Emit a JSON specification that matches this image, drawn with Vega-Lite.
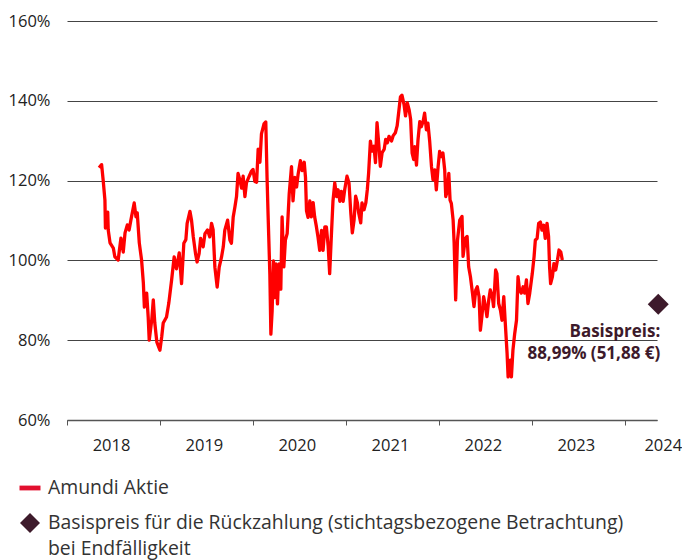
{
  "$schema": "https://vega.github.io/schema/vega-lite/v6.json",
  "width": 590,
  "height": 399,
  "autosize": "none",
  "padding": {"left": 67, "top": 21, "right": 25, "bottom": 140},
  "background": "white",
  "config": {"view": {"stroke": null}, "font": "Open Sans", "style": {"guide-label": {"lineHeight": 26}}},
  "datasets": {
    "stock": [
      {"date": "2017-11-04", "value": 123.2}, {"date": "2017-11-14", "value": 124.0}, {"date": "2017-11-20", "value": 120.2},
      {"date": "2017-11-27", "value": 115.1}, {"date": "2017-11-29", "value": 108.1}, {"date": "2017-12-08", "value": 112.1},
      {"date": "2017-12-10", "value": 107.6}, {"date": "2017-12-17", "value": 104.4}, {"date": "2017-12-30", "value": 103.1},
      {"date": "2018-01-05", "value": 100.9}, {"date": "2018-01-18", "value": 100.1}, {"date": "2018-01-29", "value": 105.6},
      {"date": "2018-02-07", "value": 102.1}, {"date": "2018-02-14", "value": 106.9}, {"date": "2018-02-23", "value": 108.9},
      {"date": "2018-03-02", "value": 107.6}, {"date": "2018-03-09", "value": 110.1}, {"date": "2018-03-22", "value": 114.4},
      {"date": "2018-03-29", "value": 110.9}, {"date": "2018-04-03", "value": 111.9}, {"date": "2018-04-11", "value": 104.4},
      {"date": "2018-04-20", "value": 100.1}, {"date": "2018-04-27", "value": 94.3}, {"date": "2018-05-01", "value": 88.3},
      {"date": "2018-05-10", "value": 91.8}, {"date": "2018-05-16", "value": 85.8}, {"date": "2018-05-20", "value": 80.0},
      {"date": "2018-05-30", "value": 85.1}, {"date": "2018-06-05", "value": 90.1}, {"date": "2018-06-11", "value": 84.3},
      {"date": "2018-06-19", "value": 79.5}, {"date": "2018-07-01", "value": 77.5}, {"date": "2018-07-08", "value": 80.8},
      {"date": "2018-07-14", "value": 84.3}, {"date": "2018-07-27", "value": 85.8}, {"date": "2018-08-05", "value": 89.3},
      {"date": "2018-08-16", "value": 95.1}, {"date": "2018-08-26", "value": 100.9}, {"date": "2018-09-04", "value": 97.9},
      {"date": "2018-09-15", "value": 101.9}, {"date": "2018-09-24", "value": 94.2}, {"date": "2018-10-03", "value": 104.3},
      {"date": "2018-10-11", "value": 105.2}, {"date": "2018-10-16", "value": 109.3}, {"date": "2018-10-27", "value": 112.3},
      {"date": "2018-11-02", "value": 110.2}, {"date": "2018-11-09", "value": 106.0}, {"date": "2018-11-18", "value": 101.7},
      {"date": "2018-11-24", "value": 99.6}, {"date": "2018-12-02", "value": 101.7}, {"date": "2018-12-08", "value": 105.5},
      {"date": "2018-12-18", "value": 103.4}, {"date": "2018-12-25", "value": 106.7}, {"date": "2019-01-04", "value": 107.6},
      {"date": "2019-01-13", "value": 105.9}, {"date": "2019-01-20", "value": 109.3}, {"date": "2019-01-26", "value": 107.7},
      {"date": "2019-02-02", "value": 98.3}, {"date": "2019-02-11", "value": 93.3}, {"date": "2019-02-19", "value": 98.3},
      {"date": "2019-02-28", "value": 100.8}, {"date": "2019-03-07", "value": 103.4}, {"date": "2019-03-13", "value": 107.6},
      {"date": "2019-03-24", "value": 110.1}, {"date": "2019-04-02", "value": 105.1}, {"date": "2019-04-08", "value": 104.3},
      {"date": "2019-04-15", "value": 110.9}, {"date": "2019-04-22", "value": 113.5}, {"date": "2019-04-28", "value": 116.0},
      {"date": "2019-05-04", "value": 121.8}, {"date": "2019-05-11", "value": 120.2}, {"date": "2019-05-18", "value": 118.1},
      {"date": "2019-05-24", "value": 121.1}, {"date": "2019-05-31", "value": 116.0}, {"date": "2019-06-06", "value": 119.4},
      {"date": "2019-06-17", "value": 121.1}, {"date": "2019-06-26", "value": 122.4}, {"date": "2019-07-02", "value": 122.8},
      {"date": "2019-07-09", "value": 119.8}, {"date": "2019-07-16", "value": 119.6}, {"date": "2019-07-22", "value": 127.9},
      {"date": "2019-07-29", "value": 124.6}, {"date": "2019-08-04", "value": 131.7}, {"date": "2019-08-14", "value": 134.2},
      {"date": "2019-08-21", "value": 134.7}, {"date": "2019-08-26", "value": 120.7}, {"date": "2019-08-30", "value": 111.5},
      {"date": "2019-09-06", "value": 96.5}, {"date": "2019-09-10", "value": 81.5}, {"date": "2019-09-15", "value": 87.4},
      {"date": "2019-09-20", "value": 99.9}, {"date": "2019-09-25", "value": 90.7}, {"date": "2019-09-30", "value": 99.1},
      {"date": "2019-10-06", "value": 89.1}, {"date": "2019-10-12", "value": 99.1}, {"date": "2019-10-19", "value": 92.8},
      {"date": "2019-10-24", "value": 110.9}, {"date": "2019-10-31", "value": 98.4}, {"date": "2019-11-06", "value": 105.1},
      {"date": "2019-11-13", "value": 106.7}, {"date": "2019-11-21", "value": 116.7}, {"date": "2019-11-30", "value": 123.5},
      {"date": "2019-12-06", "value": 114.9}, {"date": "2019-12-13", "value": 120.8}, {"date": "2019-12-20", "value": 118.4},
      {"date": "2019-12-26", "value": 121.6}, {"date": "2020-01-04", "value": 125.0}, {"date": "2020-01-11", "value": 122.5},
      {"date": "2020-01-19", "value": 124.6}, {"date": "2020-01-24", "value": 120.8}, {"date": "2020-01-28", "value": 112.4},
      {"date": "2020-02-03", "value": 110.8}, {"date": "2020-02-10", "value": 114.9}, {"date": "2020-02-16", "value": 110.9},
      {"date": "2020-02-23", "value": 114.5}, {"date": "2020-02-29", "value": 110.9}, {"date": "2020-03-07", "value": 108.4},
      {"date": "2020-03-13", "value": 105.9}, {"date": "2020-03-20", "value": 102.5}, {"date": "2020-03-27", "value": 107.5},
      {"date": "2020-04-02", "value": 102.5}, {"date": "2020-04-09", "value": 108.4}, {"date": "2020-04-15", "value": 108.4},
      {"date": "2020-04-22", "value": 103.6}, {"date": "2020-04-28", "value": 96.7}, {"date": "2020-05-05", "value": 106.7},
      {"date": "2020-05-11", "value": 114.9}, {"date": "2020-05-18", "value": 119.4}, {"date": "2020-05-25", "value": 116.0},
      {"date": "2020-05-31", "value": 117.7}, {"date": "2020-06-07", "value": 114.8}, {"date": "2020-06-13", "value": 117.3},
      {"date": "2020-06-20", "value": 114.8}, {"date": "2020-06-26", "value": 117.7}, {"date": "2020-07-05", "value": 121.1},
      {"date": "2020-07-13", "value": 119.4}, {"date": "2020-07-20", "value": 111.9}, {"date": "2020-07-26", "value": 106.9},
      {"date": "2020-08-02", "value": 110.2}, {"date": "2020-08-08", "value": 116.1}, {"date": "2020-08-15", "value": 114.4},
      {"date": "2020-08-20", "value": 111.9}, {"date": "2020-08-28", "value": 109.4}, {"date": "2020-09-02", "value": 114.4},
      {"date": "2020-09-10", "value": 112.7}, {"date": "2020-09-17", "value": 114.4}, {"date": "2020-09-23", "value": 117.8},
      {"date": "2020-09-28", "value": 121.9}, {"date": "2020-10-05", "value": 129.9}, {"date": "2020-10-11", "value": 127.4},
      {"date": "2020-10-19", "value": 128.6}, {"date": "2020-10-25", "value": 124.5}, {"date": "2020-10-31", "value": 134.5},
      {"date": "2020-11-07", "value": 129.1}, {"date": "2020-11-13", "value": 123.6}, {"date": "2020-11-20", "value": 127.0},
      {"date": "2020-11-28", "value": 127.8}, {"date": "2020-12-04", "value": 130.3}, {"date": "2020-12-11", "value": 129.5},
      {"date": "2020-12-17", "value": 131.1}, {"date": "2020-12-27", "value": 129.9}, {"date": "2021-01-02", "value": 131.2},
      {"date": "2021-01-11", "value": 132.0}, {"date": "2021-01-18", "value": 133.7}, {"date": "2021-01-24", "value": 137.0},
      {"date": "2021-01-31", "value": 141.0}, {"date": "2021-02-06", "value": 141.4}, {"date": "2021-02-14", "value": 139.1},
      {"date": "2021-02-20", "value": 136.2}, {"date": "2021-02-27", "value": 139.5}, {"date": "2021-03-06", "value": 137.8},
      {"date": "2021-03-12", "value": 135.4}, {"date": "2021-03-18", "value": 126.9}, {"date": "2021-03-24", "value": 125.3},
      {"date": "2021-03-28", "value": 128.5}, {"date": "2021-04-04", "value": 123.9}, {"date": "2021-04-10", "value": 130.2},
      {"date": "2021-04-17", "value": 134.8}, {"date": "2021-04-23", "value": 133.5}, {"date": "2021-04-30", "value": 134.8},
      {"date": "2021-05-06", "value": 136.9}, {"date": "2021-05-13", "value": 132.7}, {"date": "2021-05-19", "value": 134.4},
      {"date": "2021-05-26", "value": 129.8}, {"date": "2021-06-02", "value": 123.5}, {"date": "2021-06-08", "value": 120.2},
      {"date": "2021-06-15", "value": 122.7}, {"date": "2021-06-21", "value": 117.7}, {"date": "2021-06-28", "value": 123.5},
      {"date": "2021-07-04", "value": 127.3}, {"date": "2021-07-11", "value": 126.0}, {"date": "2021-07-17", "value": 126.9},
      {"date": "2021-07-24", "value": 122.6}, {"date": "2021-07-28", "value": 116.0}, {"date": "2021-08-04", "value": 117.6},
      {"date": "2021-08-09", "value": 121.8}, {"date": "2021-08-14", "value": 115.1}, {"date": "2021-08-19", "value": 114.3},
      {"date": "2021-08-26", "value": 110.1}, {"date": "2021-08-30", "value": 104.3}, {"date": "2021-09-05", "value": 90.1},
      {"date": "2021-09-12", "value": 105.0}, {"date": "2021-09-21", "value": 110.1}, {"date": "2021-09-30", "value": 111.0},
      {"date": "2021-10-04", "value": 101.0}, {"date": "2021-10-13", "value": 105.5}, {"date": "2021-10-20", "value": 106.0},
      {"date": "2021-10-26", "value": 98.4}, {"date": "2021-11-02", "value": 95.9}, {"date": "2021-11-10", "value": 91.8},
      {"date": "2021-11-16", "value": 88.4}, {"date": "2021-11-23", "value": 92.6}, {"date": "2021-11-29", "value": 93.4},
      {"date": "2021-12-06", "value": 90.9}, {"date": "2021-12-11", "value": 82.5}, {"date": "2021-12-17", "value": 85.9},
      {"date": "2021-12-24", "value": 90.9}, {"date": "2021-12-31", "value": 88.4}, {"date": "2022-01-06", "value": 85.9},
      {"date": "2022-01-13", "value": 90.1}, {"date": "2022-01-19", "value": 92.6}, {"date": "2022-01-27", "value": 90.9},
      {"date": "2022-02-01", "value": 88.4}, {"date": "2022-02-09", "value": 97.6}, {"date": "2022-02-14", "value": 96.7},
      {"date": "2022-02-21", "value": 89.2}, {"date": "2022-02-28", "value": 87.5}, {"date": "2022-03-06", "value": 85.0},
      {"date": "2022-03-13", "value": 90.9}, {"date": "2022-03-19", "value": 84.2}, {"date": "2022-03-26", "value": 76.7},
      {"date": "2022-03-30", "value": 70.8}, {"date": "2022-04-08", "value": 75.0}, {"date": "2022-04-12", "value": 70.8},
      {"date": "2022-04-18", "value": 77.5}, {"date": "2022-04-25", "value": 81.7}, {"date": "2022-05-02", "value": 85.0},
      {"date": "2022-05-08", "value": 95.9}, {"date": "2022-05-14", "value": 92.6}, {"date": "2022-05-21", "value": 91.8},
      {"date": "2022-05-28", "value": 93.4}, {"date": "2022-06-03", "value": 91.8}, {"date": "2022-06-10", "value": 95.1},
      {"date": "2022-06-16", "value": 89.2}, {"date": "2022-06-23", "value": 91.8}, {"date": "2022-07-03", "value": 96.7},
      {"date": "2022-07-10", "value": 100.9}, {"date": "2022-07-15", "value": 105.1}, {"date": "2022-07-22", "value": 105.5},
      {"date": "2022-07-28", "value": 109.3}, {"date": "2022-08-04", "value": 109.6}, {"date": "2022-08-10", "value": 107.6},
      {"date": "2022-08-17", "value": 108.8}, {"date": "2022-08-23", "value": 105.5}, {"date": "2022-08-30", "value": 109.3},
      {"date": "2022-09-05", "value": 106.0}, {"date": "2022-09-09", "value": 98.3}, {"date": "2022-09-13", "value": 94.2},
      {"date": "2022-09-20", "value": 95.9}, {"date": "2022-09-26", "value": 99.2}, {"date": "2022-10-03", "value": 97.6},
      {"date": "2022-10-10", "value": 100.1}, {"date": "2022-10-16", "value": 102.6}, {"date": "2022-10-23", "value": 102.1},
      {"date": "2022-10-29", "value": 100.1}
    ],
    "strike": [
      {"date": "2023-11-10", "value": 88.99, "series": "Basispreis für die Rückzahlung (stichtagsbezogene Betrachtung)", "label": "Basispreis:\n88,99% (51,88 €)"}
    ]
  },
  "layer": [
    {
      "data": {"name": "stock"},
      "mark": {"type": "line", "color": "#ff0000", "strokeWidth": 3.3, "strokeJoin": "round"},
      "encoding": {
        "x": {
          "field": "date", "type": "temporal",
          "scale": {"type": "utc", "nice": false, "domain": [{"year": 2017, "month": 7, "date": 1, "utc": true}, {"year": 2023, "month": 11, "date": 5, "utc": true}]},
          "axis": {
            "title": null, "grid": false,
            "values": [
              {"year": 2017, "month": 7, "date": 1, "utc": true}, {"year": 2018, "month": 7, "date": 1, "utc": true},
              {"year": 2019, "month": 7, "date": 1, "utc": true}, {"year": 2020, "month": 7, "date": 1, "utc": true},
              {"year": 2021, "month": 7, "date": 1, "utc": true}, {"year": 2022, "month": 7, "date": 1, "utc": true},
              {"year": 2023, "month": 7, "date": 1, "utc": true}
            ],
            "labelExpr": "utcyear(datum.value) + 1",
            "labelOffset": {"condition": {"test": "utcyear(datum.value) == 2023", "value": 57}, "value": 44},
            "labelAlign": {"condition": {"test": "utcyear(datum.value) == 2023", "value": "right"}, "value": "center"},
            "labelPadding": 12, "labelOverlap": false, "labelFlush": false, "labelBound": false,
            "labelFontSize": 16.5, "labelColor": "#222222", "labelFont": "Open Sans",
            "tickSize": 5, "tickColor": "#555555", "domainColor": "#555555", "domainWidth": 1.5
          }
        },
        "y": {
          "field": "value", "type": "quantitative",
          "scale": {"domain": [60, 160], "nice": false, "zero": false},
          "axis": {
            "title": null, "values": [60, 80, 100, 120, 140, 160], "labelExpr": "datum.value + '%'",
            "domain": false, "ticks": false, "grid": true, "gridColor": "#444444", "gridWidth": 1, "gridOpacity": 1,
            "labelFontSize": 16.5, "labelColor": "#222222", "labelFont": "Open Sans", "labelPadding": 17
          }
        }
      }
    },
    {
      "data": {"name": "strike"},
      "mark": {"type": "point", "filled": true, "size": 441, "opacity": 1, "strokeWidth": 0},
      "encoding": {
        "x": {"field": "date", "type": "temporal"},
        "y": {"field": "value", "type": "quantitative"},
        "color": {
          "field": "series", "type": "nominal",
          "scale": {"domain": ["Amundi Aktie", "Basispreis für die Rückzahlung (stichtagsbezogene Betrachtung)"], "range": ["#e2102f", "#3d1a2b"]},
          "legend": {
            "title": null, "orient": "none", "legendX": -47, "legendY": 457, "direction": "vertical", "padding": 0,
            "symbolSize": 400, "symbolStrokeWidth": 0, "symbolOpacity": 1, "rowPadding": 15,
            "labelFontSize": 19.4, "labelColor": "#333333", "labelFont": "Open Sans", "labelLimit": 700, "labelOffset": 8,
            "labelExpr": "datum.label == 'Amundi Aktie' ? datum.label : [datum.label, 'bei Endfälligkeit']"
          }
        },
        "shape": {
          "field": "series", "type": "nominal",
          "scale": {"domain": ["Amundi Aktie", "Basispreis für die Rückzahlung (stichtagsbezogene Betrachtung)"], "range": ["M-1.05,-0.24L1.05,-0.24L1.05,0.24L-1.05,0.24Z", "diamond"]},
          "legend": {
            "title": null, "orient": "none", "legendX": -47, "legendY": 457, "direction": "vertical", "padding": 0,
            "symbolSize": 400, "symbolStrokeWidth": 0, "symbolOpacity": 1, "rowPadding": 15,
            "labelFontSize": 19.4, "labelColor": "#333333", "labelFont": "Open Sans", "labelLimit": 700, "labelOffset": 8,
            "labelExpr": "datum.label == 'Amundi Aktie' ? datum.label : [datum.label, 'bei Endfälligkeit']"
          }
        }
      }
    },
    {
      "data": {"name": "strike"},
      "mark": {"type": "text", "align": "right", "baseline": "alphabetic", "dx": 2, "dy": 33, "lineBreak": "\n", "lineHeight": 22, "fontSize": 17, "fontWeight": "bold", "font": "Open Sans", "color": "#3d1a2b"},
      "encoding": {
        "x": {"field": "date", "type": "temporal"},
        "y": {"field": "value", "type": "quantitative"},
        "text": {"field": "label"}
      }
    }
  ]
}
